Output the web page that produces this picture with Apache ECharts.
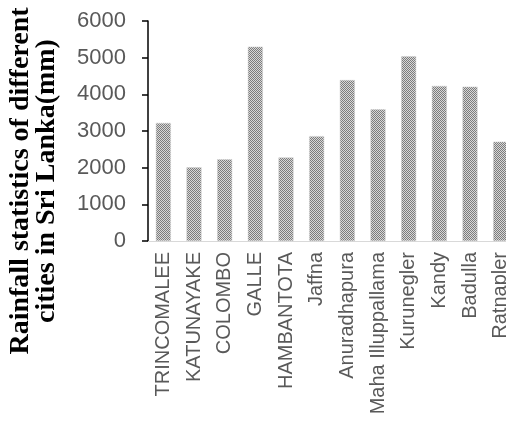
<!DOCTYPE html>
<html><head><meta charset="utf-8">
<script src="https://cdn.jsdelivr.net/npm/echarts@6/dist/echarts.min.js"></script>
<style>html,body{margin:0;padding:0;background:#fff;overflow:hidden}#c{width:516px;height:436px}</style>
</head><body><div id="c"></div>
<script>
const categories = ['TRINCOMALEE','KATUNAYAKE','COLOMBO','GALLE','HAMBANTOTA','Jaffna','Anuradhapura','Maha Illuppallama','Kurunegler','Kandy','Badulla','Ratnapler'];
const rainfall = [3220, 2010, 2230, 5300, 2280, 2860, 4390, 3590, 5040, 4230, 4210, 2710];
const yTicks = [0, 1000, 2000, 3000, 4000, 5000, 6000];
const titleLines = ['Rainfall statistics of different', 'cities in Sri Lanka(mm)'];

// checkerboard pattern for bars
const pc = document.createElement('canvas');
pc.width = 2; pc.height = 2;
const pctx = pc.getContext('2d');
pctx.fillStyle = '#d8d8d8'; pctx.fillRect(0,0,2,2);
pctx.fillStyle = '#7c7c7c'; pctx.fillRect(0,0,1,1); pctx.fillRect(1,1,1,1);

const chart = echarts.init(document.getElementById('c'), null, {renderer:'canvas'});
chart.setOption({
  animation: false,
  grid: {left: 148, top: 21, height: 220, width: 368, containLabel: false},
  xAxis: {
    type: 'category', data: categories,
    axisLine: {show: true, lineStyle: {color: '#d9d9d9', width: 1}},
    axisTick: {show: false},
    axisLabel: {rotate: 90, interval: 0, margin: 11, color: '#595959', fontFamily: 'Liberation Sans', fontSize: 20}
  },
  yAxis: {
    type: 'value', min: yTicks[0], max: yTicks[yTicks.length-1], interval: 1000,
    axisLine: {show: true, lineStyle: {color: '#000', width: 1.5}},
    axisTick: {show: true, inside: false, length: 6, lineStyle: {color: '#000', width: 1.5}},
    splitLine: {show: false},
    axisLabel: {margin: 22, color: '#595959', fontFamily: 'Liberation Sans', fontSize: 22, formatter: v => String(v)}
  },
  series: [{
    type: 'bar', data: rainfall, barWidth: 15,
    itemStyle: {color: {image: pc, repeat: 'repeat'}, borderColor: '#cfcfcf', borderWidth: 0.5}
  }],
  graphic: [
    {type: 'text', x: 21, y: 181, rotation: Math.PI/2,
     style: {text: titleLines[0], font: 'bold 28px "Liberation Serif"', fill: '#000', align: 'center', verticalAlign: 'middle'}},
    {type: 'text', x: 47, y: 181, rotation: Math.PI/2,
     style: {text: titleLines[1], font: 'bold 28px "Liberation Serif"', fill: '#000', align: 'center', verticalAlign: 'middle'}}
  ]
});
</script></body></html>
